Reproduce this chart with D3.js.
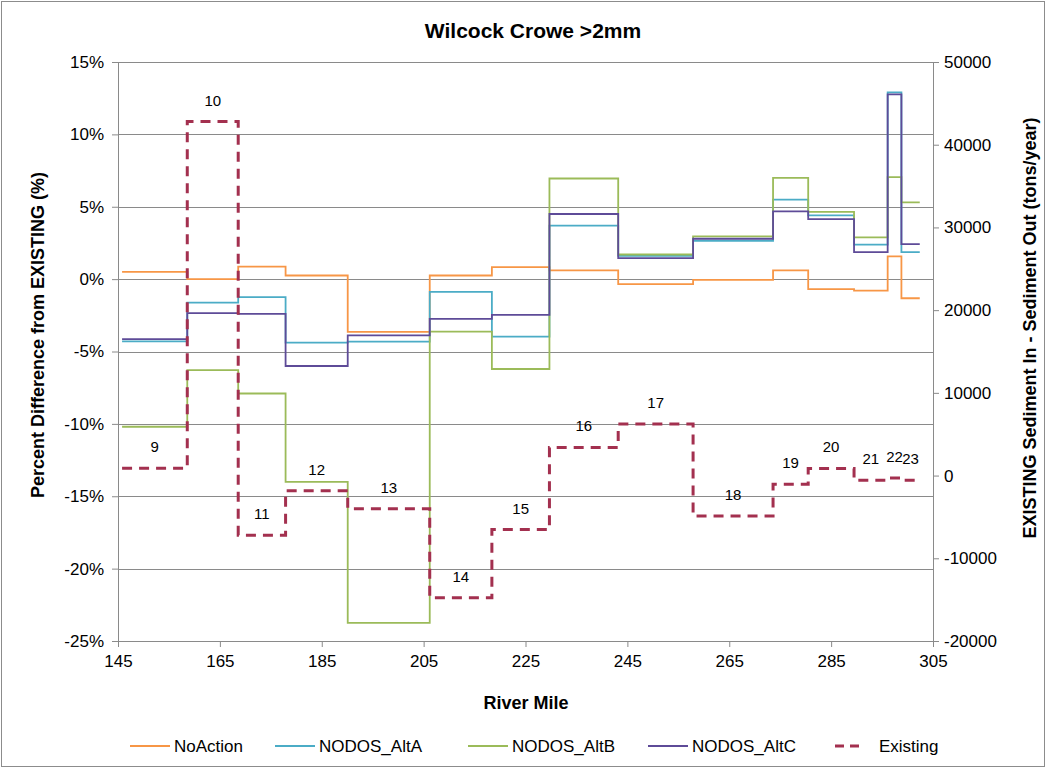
<!DOCTYPE html>
<html>
<head>
<meta charset="utf-8">
<script src="https://cdn.jsdelivr.net/npm/d3@7"></script>
<style>
  html, body { margin: 0; padding: 0; background: #fff; }
  svg { display: block; font-family: "Liberation Sans", Arial, sans-serif; }
</style>
</head>
<body>
<svg id="chart" width="1046" height="768"></svg>
<script>
// ---- Data ----
const reachLabels = ["9","10","11","12","13","14","15","16","17","18","19","20","21","22","23"];
const riverMileBounds = [145.8, 158.6, 168.6, 177.9, 190.1, 206.2, 218.4, 229.7, 243.2, 257.9, 273.6, 280.5, 289.5, 296.1, 298.8, 302.4];
const noAction  = [0.5, 0.0, 0.87, 0.25, -3.65, 0.25, 0.83, 0.6, -0.35, -0.05, 0.6, -0.69, -0.79, 1.57, -1.32];
const nodosAltA = [-4.3, -1.62, -1.25, -4.39, -4.32, -0.88, -3.97, 3.69, 1.6, 2.65, 5.49, 4.4, 2.38, 12.9, 1.87];
const nodosAltB = [-10.2, -6.28, -7.9, -14.0, -23.75, -3.63, -6.21, 6.95, 1.7, 2.95, 7.0, 4.64, 2.88, 7.04, 5.3];
const nodosAltC = [-4.15, -2.35, -2.4, -6.0, -3.88, -2.75, -2.47, 4.5, 1.45, 2.79, 4.68, 4.15, 1.87, 12.76, 2.42];
const existing  = [900, 42800, -7200, -1850, -4000, -14760, -6530, 3400, 6220, -4880, -1040, 860, -560, -280, -560];

const xTicks = [145, 165, 185, 205, 225, 245, 265, 285, 305];
const yLeftTicks = [15, 10, 5, 0, -5, -10, -15, -20, -25];
const yRightTicks = [50000, 40000, 30000, 20000, 10000, 0, -10000, -20000];

const seriesNames = ["NoAction", "NODOS_AltA", "NODOS_AltB", "NODOS_AltC", "Existing"];
const seriesColors = ["#F79646", "#4BACC6", "#9BBB59", "#5E4B98", "#A3304F"];

// ---- Layout ----
const svg = d3.select("#chart");
const L = 118, R = 933, T = 62, B = 641;
const font = "Liberation Sans, Arial, sans-serif";

const x = d3.scaleLinear().domain([145, 305]).range([L, R]);
const yL = d3.scaleLinear().domain([-25, 15]).range([B, T]);
const yR = d3.scaleLinear().domain([-20000, 50000]).range([B, T]);

// outer border
svg.append("rect").attr("x", 1.5).attr("y", 1.5).attr("width", 1043).attr("height", 765)
  .attr("fill", "#fff").attr("stroke", "#8c8c8c").attr("stroke-width", 1);

// gridlines
svg.append("g").selectAll("line").data(yLeftTicks).join("line")
  .attr("x1", L).attr("x2", R)
  .attr("y1", d => Math.round(yL(d)) + 0.5).attr("y2", d => Math.round(yL(d)) + 0.5)
  .attr("stroke", "#8a8a8a").attr("stroke-width", 1);

// axes
const axisColor = "#8a8a8a";
const gL = svg.append("g").attr("transform", `translate(${L},0)`)
  .call(d3.axisLeft(yL).tickValues(yLeftTicks).tickFormat(d => d + "%").tickSize(6).tickPadding(8));
const gR = svg.append("g").attr("transform", `translate(${R},0)`)
  .call(d3.axisRight(yR).tickValues(yRightTicks).tickFormat(d => String(d)).tickSize(6).tickPadding(5));
const gB = svg.append("g").attr("transform", `translate(0,${B})`)
  .call(d3.axisBottom(x).tickValues(xTicks).tickFormat(d => String(d)).tickSize(6).tickPadding(8));
[gL, gR, gB].forEach(g => {
  g.selectAll("path.domain").attr("stroke", axisColor);
  g.selectAll(".tick line").attr("stroke", axisColor);
  g.selectAll(".tick text").attr("fill", "#000").style("font-size", "17px").style("font-family", font);
});

// step lines
const stepLine = (yScale) => d3.line()
  .x(d => x(d[0])).y(d => yScale(d[1])).curve(d3.curveStepAfter);
const toPts = vals => {
  const pts = vals.map((v, i) => [riverMileBounds[i], v]);
  pts.push([riverMileBounds[riverMileBounds.length - 1], vals[vals.length - 1]]);
  return pts;
};
const pctSeries = [noAction, nodosAltA, nodosAltB, nodosAltC];
pctSeries.forEach((vals, i) => {
  svg.append("path").datum(toPts(vals))
    .attr("d", stepLine(yL))
    .attr("fill", "none").attr("stroke", seriesColors[i]).attr("stroke-width", 1.8);
});
svg.append("path").datum(toPts(existing))
  .attr("d", stepLine(yR))
  .attr("fill", "none").attr("stroke", seriesColors[4]).attr("stroke-width", 3)
  .attr("stroke-dasharray", "10,7");

// reach labels
svg.append("g").selectAll("text").data(existing).join("text")
  .attr("x", (d, i) => (x(riverMileBounds[i]) + x(riverMileBounds[i + 1])) / 2)
  .attr("y", d => yR(d) - 16)
  .attr("text-anchor", "middle")
  .style("font-size", "15px").style("font-family", font)
  .text((d, i) => reachLabels[i]);

// titles
svg.append("text").attr("x", 533).attr("y", 38).attr("text-anchor", "middle")
  .style("font-size", "21px").style("font-weight", "bold").style("font-family", font)
  .text("Wilcock Crowe >2mm");
svg.append("text").attr("x", 526).attr("y", 709).attr("text-anchor", "middle")
  .style("font-size", "18px").style("font-weight", "bold").style("font-family", font)
  .text("River Mile");
svg.append("text").attr("transform", "translate(44,335) rotate(-90)").attr("text-anchor", "middle")
  .style("font-size", "18px").style("font-weight", "bold").style("font-family", font)
  .text("Percent Difference from EXISTING (%)");
svg.append("text").attr("transform", "translate(1036,328) rotate(-90)").attr("text-anchor", "middle")
  .style("font-size", "18px").style("font-weight", "bold").style("font-family", font)
  .text("EXISTING Sediment In - Sediment Out (tons/year)");

// legend
const legendX = [130, 275, 468, 648, 835];
const legendY = 746;
const lg = svg.append("g");
seriesNames.forEach((name, i) => {
  const lx = legendX[i];
  const ln = lg.append("line").attr("x1", lx).attr("x2", lx + 40)
    .attr("y1", legendY).attr("y2", legendY)
    .attr("stroke", seriesColors[i]).attr("stroke-width", i === 4 ? 3 : 1.8);
  if (i === 4) ln.attr("x1", lx).attr("x2", lx + 30).attr("stroke-dasharray", "9,6");
  lg.append("text").attr("x", lx + (i === 4 ? 44 : 44)).attr("y", legendY + 6)
    .style("font-size", "17px").style("font-family", font).text(name);
});
</script>
</body>
</html>
